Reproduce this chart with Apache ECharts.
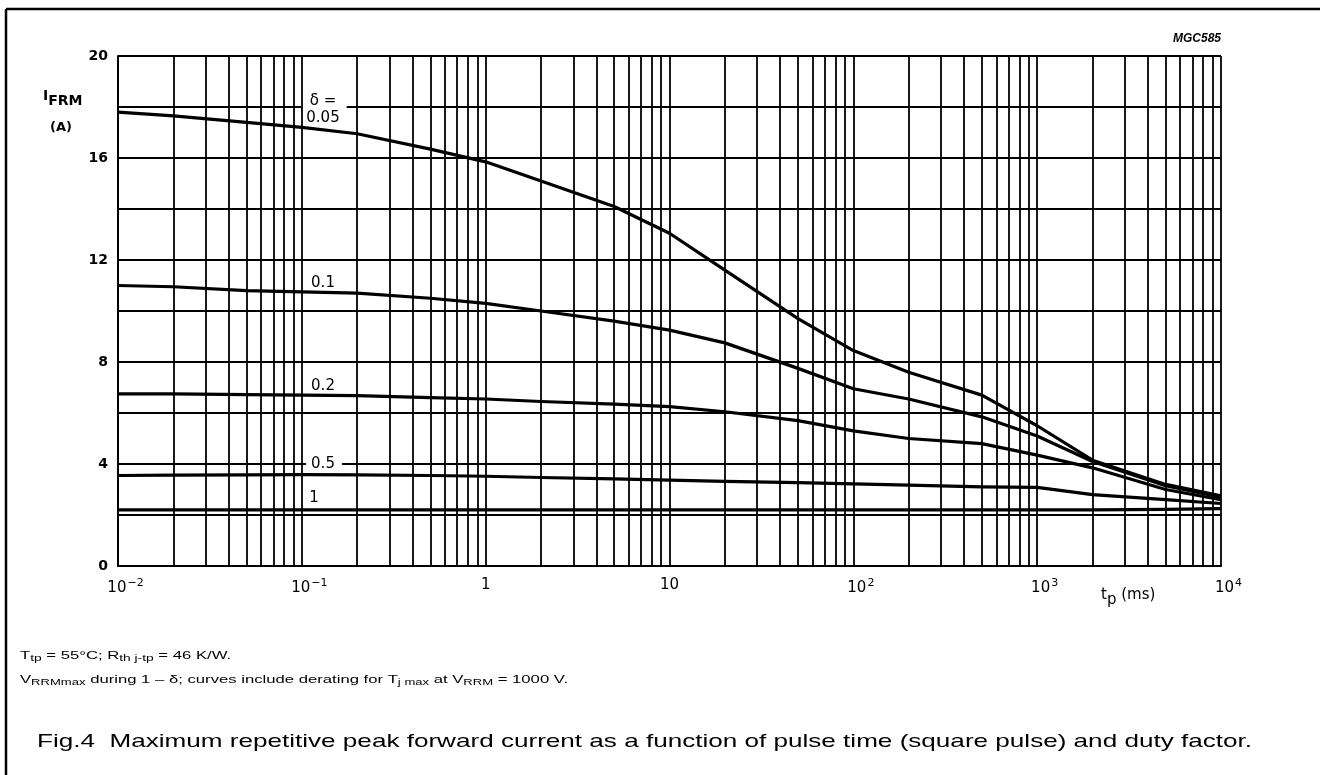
<!doctype html>
<html>
<head>
    <meta charset="utf-8">
    <script src="https://cdn.jsdelivr.net/npm/echarts@6/dist/echarts.min.js"></script>
    <style>
        html, body { margin: 0; padding: 0; background: #fff; }
        #chart { width: 1320px; height: 775px; }
    </style>
</head>
<body>
<div id="chart"></div>
<script type="text/javascript">
    // pulse time tp (ms) and the curves, one per duty factor
    var tMs = [0.01, 0.02, 0.05, 0.1, 0.2, 0.5, 1, 2, 5, 10, 20, 50, 100, 200, 500, 1000, 2000, 5000, 10000];
    var iD005 = [17.8, 17.65, 17.4, 17.2, 16.95, 16.35, 15.85, 15.1, 14.1, 13.05, 11.6, 9.7, 8.45, 7.6, 6.7, 5.5, 4.15, 3.2, 2.75];
    var iD01 = [11.0, 10.95, 10.8, 10.75, 10.7, 10.5, 10.3, 10.0, 9.6, 9.25, 8.75, 7.75, 6.95, 6.55, 5.85, 5.1, 4.1, 3.15, 2.7];
    var iD02 = [6.75, 6.75, 6.72, 6.7, 6.68, 6.6, 6.55, 6.45, 6.35, 6.25, 6.05, 5.7, 5.3, 5.0, 4.8, 4.35, 3.85, 3.0, 2.6];
    var iD05 = [3.55, 3.56, 3.57, 3.58, 3.57, 3.55, 3.52, 3.47, 3.42, 3.37, 3.32, 3.27, 3.22, 3.17, 3.1, 3.08, 2.8, 2.6, 2.45];
    var iD1 = [2.2, 2.2, 2.2, 2.2, 2.2, 2.2, 2.2, 2.2, 2.2, 2.2, 2.2, 2.2, 2.2, 2.2, 2.2, 2.2, 2.2, 2.22, 2.25];

    // curve labels: [tp, I, text]
    var curveLabels = [
        [0.132, 17.9, 'δ =\n0.05'],
        [0.132, 11.1, '0.1'],
        [0.132, 7.06, '0.2'],
        [0.132, 3.98, '0.5'],
        [0.118, 2.67, '1']
    ];

    // log grid: decades and the 1..9 steps inside them
    var decades = [0.01, 0.1, 1, 10, 100, 1000];
    var steps = [1, 2, 3, 4, 5, 6, 7, 8, 9];
    var xTickSup = { '0.01': '−2', '0.1': '−1', '1': '', '10': '', '100': '2', '1000': '3', '10000': '4' };

    var gridT = [];
    decades.forEach(function (d) {
        steps.forEach(function (s) {
            gridT.push(+(d * s).toPrecision(3));
        });
    });
    gridT.push(10000);

    function pairs(ys) {
        return tMs.map(function (t, i) { return [t, ys[i]]; });
    }

    function curve(name, ys) {
        return {
            name: name,
            type: 'line',
            data: pairs(ys),
            showSymbol: false,
            smooth: false,
            z: 3,
            lineStyle: { color: '#000', width: 3.2, join: 'round' }
        };
    }

    var font = '"Liberation Sans", Arial, Helvetica, sans-serif';
    var wide = '"DejaVu Sans", "Liberation Sans", Arial, sans-serif';

    var chart = echarts.init(document.getElementById('chart'));
    var option = {
        animation: false,
        backgroundColor: '#fff',
        textStyle: { fontFamily: wide, color: '#000' },
        grid: { left: 118, right: 99, top: 56, bottom: 209, containLabel: false },
        xAxis: {
            type: 'log',
            logBase: 10,
            min: 0.01,
            max: 10000,
            axisLine: { show: true, lineStyle: { color: '#000', width: 2 } },
            axisTick: { show: false },
            splitLine: { show: false },
            axisLabel: {
                margin: 12,
                fontSize: 15,
                fontFamily: wide,
                color: '#000',
                formatter: function (v) {
                    var key = String(+v.toPrecision(3));
                    var sup = xTickSup[key];
                    if (sup === undefined) return '';
                    if (key === '1' || key === '10') return key;
                    return '{pad|}10{sup|' + sup + '}';
                },
                rich: {
                    sup: { fontSize: 11, fontFamily: wide, verticalAlign: 'top', padding: [0, 0, 9, 1] },
                    pad: { width: 15 }
                }
            }
        },
        yAxis: {
            type: 'value',
            min: 0,
            max: 20,
            interval: 2,
            axisLine: { show: true, lineStyle: { color: '#000', width: 2 } },
            axisTick: { show: false },
            splitLine: { show: true, lineStyle: { color: '#000', width: 1.8 } },
            axisLabel: {
                margin: 10,
                fontSize: 14,
                fontWeight: 'bold',
                fontFamily: wide,
                color: '#000',
                formatter: function (v) { return v % 4 === 0 ? String(v) : ''; }
            }
        },
        series: [
            {
                name: 'grid',
                type: 'line',
                data: [],
                z: 1,
                silent: true,
                markLine: {
                    silent: true,
                    symbol: ['none', 'none'],
                    label: { show: false },
                    lineStyle: { color: '#000', width: 1.8, type: 'solid' },
                    data: gridT.map(function (t) { return { xAxis: t }; })
                }
            },
            {
                name: 'labels',
                type: 'scatter',
                data: curveLabels,
                symbolSize: 0,
                z: 2,
                silent: true,
                itemStyle: { opacity: 1 },
                label: {
                    show: true,
                    position: 'inside',
                    fontSize: 15,
                    lineHeight: 17,
                    align: 'center',
                    color: '#000',
                    fontFamily: wide,
                    backgroundColor: '#fff',
                    padding: [1, 7, 1, 5],
                    formatter: function (p) { return p.data[2]; }
                }
            },
            curve('0.05', iD005),
            curve('0.1', iD01),
            curve('0.2', iD02),
            curve('0.5', iD05),
            curve('1', iD1)
        ],
        graphic: [
            // outer frame (top and left edges)
            { type: 'line', shape: { x1: 6, y1: 9, x2: 1320, y2: 9 }, style: { stroke: '#000', lineWidth: 2.5 } },
            { type: 'line', shape: { x1: 6, y1: 9, x2: 6, y2: 775 }, style: { stroke: '#000', lineWidth: 2.5 } },
            {
                type: 'text', right: 99, top: 33,
                style: { text: 'MGC585', font: 'italic bold 12px ' + font, fill: '#000' }
            },
            {
                type: 'text', left: 43, top: 89,
                style: {
                    text: 'I{sub|FRM}', font: 'bold 14px ' + wide, fill: '#000',
                    rich: { sub: { font: 'bold 14px ' + wide, padding: [11, 0, 0, 0] } }
                }
            },
            {
                type: 'text', left: 50, top: 121,
                style: { text: '(A)', font: 'bold 13px ' + wide, fill: '#000' }
            },
            {
                type: 'text', left: 1101, top: 588,
                style: {
                    text: 't{sub|p} (ms)', font: '15px ' + wide, fill: '#000',
                    rich: { sub: { font: '15px ' + wide, padding: [9, 0, 0, 0] } }
                }
            },
            {
                type: 'text', left: 20, top: 650, scaleX: 1.45,
                style: {
                    text: 'T{sub|tp} = 55°C; R{sub|th j-tp} = 46 K/W.', font: '11.5px ' + font, fill: '#000',
                    rich: { sub: { font: '9.5px ' + font, padding: [5, 0, 0, 0] } }
                }
            },
            {
                type: 'text', left: 20, top: 674, scaleX: 1.45,
                style: {
                    text: 'V{sub|RRMmax} during 1 – δ; curves include derating for T{sub|j max} at V{sub|RRM} = 1000 V.',
                    font: '11.5px ' + font, fill: '#000',
                    rich: { sub: { font: '9px ' + font, padding: [5, 0, 0, 0] } }
                }
            },
            {
                type: 'text', left: 37, top: 732, scaleX: 1.41,
                style: {
                    text: 'Fig.4  Maximum repetitive peak forward current as a function of pulse time (square pulse) and duty factor.',
                    font: '18.5px ' + font, fill: '#000'
                }
            }
        ]
    };
    chart.setOption(option);
</script>
</body>
</html>
